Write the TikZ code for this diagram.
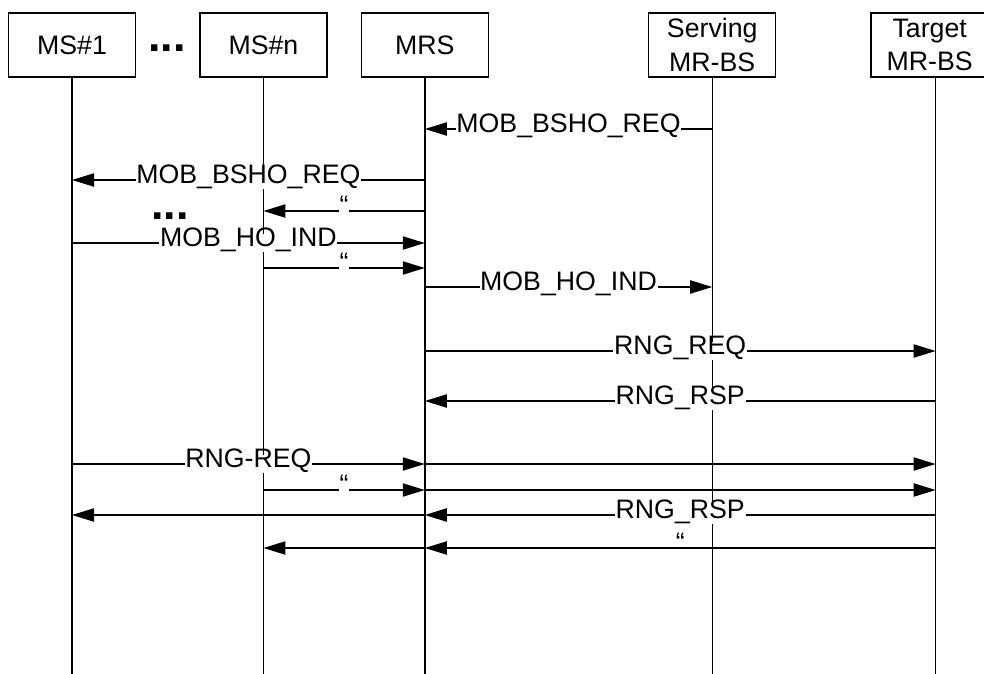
\documentclass[tikz,border=0pt]{standalone}
\usepackage{fontspec}
\setmainfont{Liberation Sans}
\usetikzlibrary{positioning}
\usetikzlibrary{arrows.meta}
\tikzset{every node/.style={font=\fontsize{19}{24}\selectfont},
	entity/.style={
		draw,
		line width=1pt,
		minimum width=3.175cm,
		minimum height=1.6cm,
		inner sep=0pt,
		align=center},
	lifeline/.style={line width=1pt},
	msg/.style={
		line width=1pt,
		-{Triangle[length=0.55cm,width=0.33cm]}},
	lbl/.style={
		fill=white,
		inner xsep=0.5pt,
		inner ysep=1.5pt,
		text height=0.78em,
		text depth=0.22em},
	dots/.style={font=\fontsize{32}{32}\selectfont\bfseries, inner sep=0pt}
}
\begin{document}
\begin{tikzpicture}
	\useasboundingbox (0,0) rectangle (24.6,-16.825);
	% entities
	\node[entity] (ms1) at (1.8,-1.125) {MS\#1};
	\node[entity, right=1.575cm of ms1] (msn) {MS\#n};
	\node[entity, right=0.825cm of msn] (mrs) {MRS};
	\node[entity, right=3.975cm of mrs] (srv) {Serving\\MR-BS};
	\node[entity, minimum width=2.925cm, right=2.35cm of srv] (tgt) {Target\\MR-BS};
	\node[dots] (hdots) at (4.18,-1.2) {...};
	\coordinate[right=0.15cm of tgt.south] (tgtl);
	\coordinate (bot) at (0,-16.9);
	% lifelines
	\foreach \n in {ms1,msn,mrs,srv}
		\draw[lifeline] (\n) -- (\n |- bot);
	\draw[lifeline] (tgtl) -- (tgtl |- bot);
	% message rows
	\foreach \i/\y in {1/3.225, 2/4.5, 3/5.275, 4/6.075, 5/6.7, 6/7.175,
		7/8.775, 8/10.025, 9/11.6, 10/12.25, 11/12.875, 12/13.7}
		\coordinate (m\i) at (0,-\y);
	% messages
	\draw[msg] (srv |- m1) -- node[lbl] {MOB\_BSHO\_REQ} (mrs |- m1);
	\draw[msg] (mrs |- m2) -- node[lbl] {MOB\_BSHO\_REQ} (ms1 |- m2);
	\draw[msg] (mrs |- m3) -- node[lbl] {“} (msn |- m3);
	\node[dots] (mdots) at (4.25,-5.4) {...};
	\draw[msg] (ms1 |- m4) -- node[lbl] {MOB\_HO\_IND} (mrs |- m4);
	\draw[msg] (msn |- m5) -- node[lbl] {“} (mrs |- m5);
	\draw[msg] (mrs |- m6) -- node[lbl] {MOB\_HO\_IND} (srv |- m6);
	\draw[msg] (mrs |- m7) -- node[lbl] {RNG\_REQ} (tgtl |- m7);
	\draw[msg] (tgtl |- m8) -- node[lbl] {RNG\_RSP} (mrs |- m8);
	\draw[msg] (ms1 |- m9) -- node[lbl] {RNG-REQ} (mrs |- m9);
	\draw[msg] (mrs |- m9) -- (tgtl |- m9);
	\draw[msg] (msn |- m10) -- node[lbl] {“} (mrs |- m10);
	\draw[msg] (mrs |- m10) -- (tgtl |- m10);
	\draw[msg] (tgtl |- m11) -- node[lbl] {RNG\_RSP} (mrs |- m11);
	\draw[msg] (mrs |- m11) -- (ms1 |- m11);
	\draw[msg] (tgtl |- m12) -- node[lbl, fill=none] {“} (mrs |- m12);
	\draw[msg] (mrs |- m12) -- (msn |- m12);
\end{tikzpicture}
\end{document}
